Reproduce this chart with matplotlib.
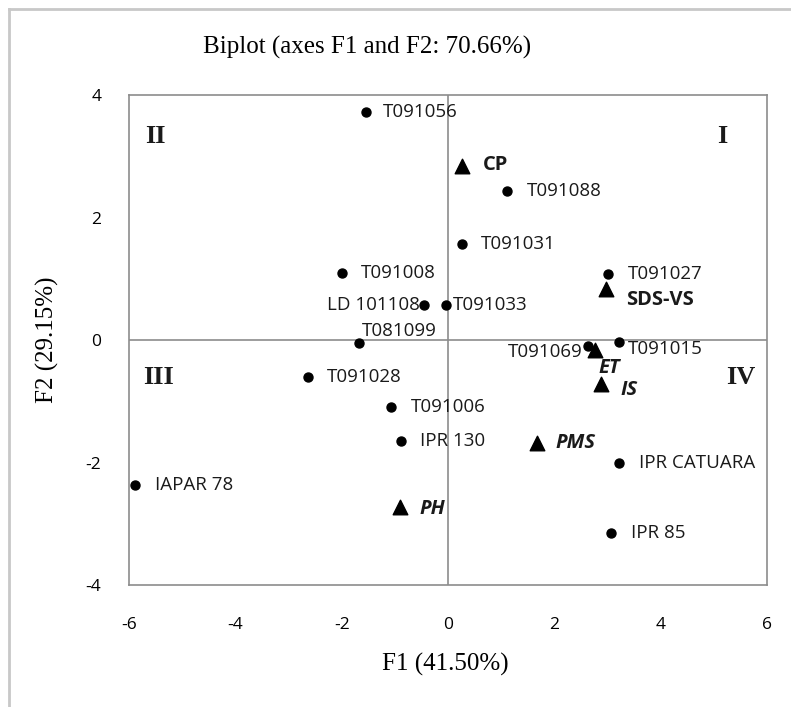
import matplotlib
matplotlib.use("Agg")
import matplotlib.pyplot as plt
from matplotlib.lines import Line2D

plt.rcParams["axes.unicode_minus"] = False

# Observations (genotypes)
obs_names = ["T091056", "T091088", "T091031", "T091008", "T091027", "LD 101108",
             "T091033", "T081099", "T091069", "T091015", "T091028", "T091006",
             "IPR 130", "IPR CATUARA", "IAPAR 78", "IPR 85"]
obs_x = [-1.54, 1.11, 0.26, -2.00, 3.01, -0.45, -0.04, -1.68, 2.64, 3.22,
         -2.64, -1.07, -0.89, 3.22, -5.88, 3.07]
obs_y = [3.72, 2.43, 1.57, 1.09, 1.08, 0.57, 0.57, -0.05, -0.10, -0.03,
         -0.60, -1.09, -1.65, -2.01, -2.37, -3.15]

# Variables
var_names = ["CP", "SDS-VS", "ET", "IS", "PMS", "PH"]
var_x = [0.26, 2.98, 2.77, 2.88, 1.68, -0.90]
var_y = [2.84, 0.83, -0.16, -0.72, -1.68, -2.73]
var_italic = [False, False, True, True, True, True]

quad_labels = ["I", "II", "III", "IV"]

W, H = 791, 707
fig = plt.figure(figsize=(W / 100, H / 100), dpi=100)
ax = fig.add_axes([129 / W, 1 - 585 / H, (767 - 129) / W, (585 - 95) / H])

gray = "#8c8c8c"
ax.set_xlim(-6, 6)
ax.set_ylim(-4, 4)
ax.set_xticks([-6, -4, -2, 0, 2, 4, 6])
ax.set_yticks([-4, -2, 0, 2, 4])
for s in ax.spines.values():
    s.set_color(gray)
    s.set_linewidth(1.2)
ax.tick_params(length=0, labelsize=12.5)
ax.tick_params(axis="x", pad=23)
ax.tick_params(axis="y", pad=20)
for lbl in ax.get_xticklabels() + ax.get_yticklabels():
    lbl.set_fontfamily("Open Sans")
ax.axhline(0, color=gray, lw=1.2, zorder=1)
ax.axvline(0, color=gray, lw=1.2, zorder=1)

ax.scatter(obs_x, obs_y, s=42, color="black", zorder=3)
ax.scatter(var_x, var_y, s=110, marker="^", color="black", zorder=3)

lab_font = dict(fontfamily="Open Sans", fontsize=13.5, color="#1a1a1a")
special = {
    "LD 101108": ((-3, 0), "right"),
    "T091069": ((-4, -4), "right"),
    "T081099": ((2, 9), "left"),
    "T091033": ((5, 0), "left"),
    "T091015": ((6, -5), "left"),
    "T091056": ((12, 0), "left"),
}
for name, x, y in zip(obs_names, obs_x, obs_y):
    off, ha = special.get(name, ((14, 0), "left"))
    ax.annotate(name, (x, y), xytext=off, textcoords="offset points",
                ha=ha, va="center", **lab_font)

var_off = {"CP": (15, 1), "SDS-VS": (14, -8), "ET": (2, -13),
           "IS": (14, -4), "PMS": (13, 0), "PH": (14, -1)}
for name, x, y, it in zip(var_names, var_x, var_y, var_italic):
    ax.annotate(name, (x, y), xytext=var_off[name], textcoords="offset points",
                ha="left", va="center", fontfamily="Open Sans", fontsize=14.5,
                fontweight="bold", fontstyle="italic" if it else "normal",
                color="#1a1a1a")

qfont = dict(fontfamily="Liberation Serif", fontsize=19, fontweight="bold",
             color="#1a1a1a", ha="center", va="center")
ax.text(5.15, 3.33, quad_labels[0], **qfont)
ax.text(-5.5, 3.33, quad_labels[1], **qfont)
ax.text(-5.45, -0.62, quad_labels[2], **qfont)
ax.text(5.5, -0.62, quad_labels[3], **qfont)

fig.text(367 / W, 1 - 47 / H, "Biplot (axes F1 and F2: 70.66%)",
         fontfamily="Liberation Serif", fontsize=18, ha="center", va="center")
fig.text(445 / W, 1 - 664 / H, "F1 (41.50%)",
         fontfamily="Liberation Serif", fontsize=18, ha="center", va="center")
fig.text(47 / W, 1 - 340 / H, "F2 (29.15%)", rotation=90,
         fontfamily="Liberation Serif", fontsize=18, ha="center", va="center")

# outer frame (left and top edges)
fig.add_artist(Line2D([9 / W, 9 / W], [0, 1 - 9 / H], color="#c8c8c8", lw=2,
                      transform=fig.transFigure))
fig.add_artist(Line2D([9 / W, 1], [1 - 9 / H, 1 - 9 / H], color="#c8c8c8", lw=2,
                      transform=fig.transFigure))

fig.savefig("out.png", dpi=100)
